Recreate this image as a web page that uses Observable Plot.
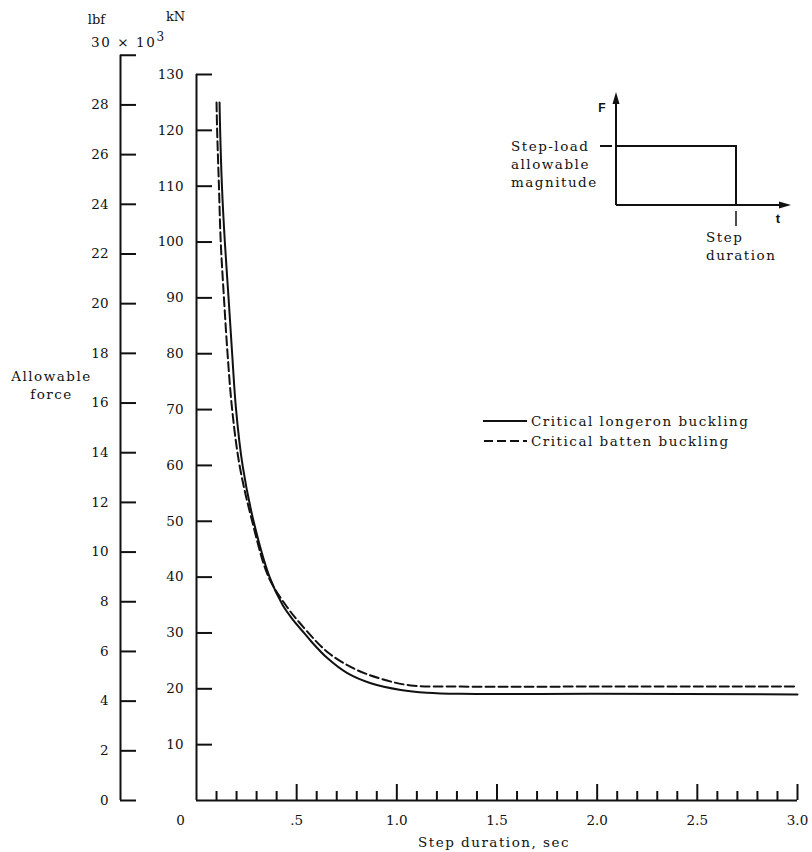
<!DOCTYPE html>
<html><head><meta charset="utf-8">
<script src="https://cdn.jsdelivr.net/npm/d3@7"></script>
<script src="https://cdn.jsdelivr.net/npm/@observablehq/plot@0.6"></script>
<style>
html,body{margin:0;padding:0;background:#fff;}
</style></head><body><div id="chart"></div>
<script>
// ---- data ----
const KN_PER_KLBF = 4.44822;
const kNTicks = [10, 20, 30, 40, 50, 60, 70, 80, 90, 100, 110, 120, 130];
const lbfTicks = [0, 2, 4, 6, 8, 10, 12, 14, 16, 18, 20, 22, 24, 26, 28, 30];
const xMajor = [0, 0.5, 1.0, 1.5, 2.0, 2.5, 3.0];
const xMajorLabels = ["0", ".5", "1.0", "1.5", "2.0", "2.5", "3.0"];
const xMinor = [0.1,0.2,0.3,0.4,0.6,0.7,0.8,0.9,1.1,1.2,1.3,1.4,1.6,1.7,1.8,1.9,2.1,2.2,2.3,2.4,2.6,2.7,2.8,2.9];

const longeronT = [0.115, 0.118, 0.127, 0.1415, 0.16, 0.178, 0.1975, 0.23, 0.285, 0.365, 0.43, 0.485, 0.537, 0.57, 0.653, 0.753, 0.87, 1.02, 1.15, 1.32, 2.0, 3.0];
const longeronF = [125, 120, 110, 100, 90, 80, 70, 60, 50, 40, 35, 32.2, 30, 28.6, 25.5, 22.8, 21.0, 19.8, 19.3, 19.1, 19.1, 19.0];
const battenT = [0.10, 0.103, 0.112, 0.121, 0.137, 0.155, 0.178, 0.215, 0.278, 0.36, 0.453, 0.52, 0.653, 0.787, 0.92, 1.07, 1.32, 2.0, 3.0];
const battenF = [125, 120, 110, 100, 90, 80, 70, 60, 50, 40, 34.6, 31.6, 26.6, 23.6, 21.8, 20.6, 20.4, 20.4, 20.4];

const seriesNames = ["Critical longeron buckling", "Critical batten buckling"];
const yLabel = "Allowable\nforce";
const xLabel = "Step duration, sec";
const longeron = longeronT.map((t, i) => ({t, f: longeronF[i]}));
const batten = battenT.map((t, i) => ({t, f: battenF[i]}));

const FONT = "DejaVu Serif, Liberation Serif, serif";
const LS = "1.5px";

const plot = Plot.plot({
  width: 812,
  height: 852,
  marginLeft: 196,
  marginRight: 15,
  marginTop: 74,
  marginBottom: 52,
  style: {fontFamily: FONT, fontSize: "13.5px", color: "#111", background: "#fff"},
  x: {domain: [0, 3], axis: null},
  y: {domain: [0, 130], axis: null},
  marks: [
    // main kN axis line and x axis line
    Plot.ruleX([0], {strokeWidth: 2}),
    Plot.ruleY([0], {strokeWidth: 2}),
    // kN axis
    Plot.axisY(kNTicks, {anchor: "left", tickSize: -16, tickPadding: 29, strokeWidth: 2, label: null, tickFormat: d => String(d)}),
    // lbf axis (secondary, converted to kN positions)
    Plot.ruleX([0], {y1: 0, y2: 30 * KN_PER_KLBF, dx: -76, strokeWidth: 2}),
    Plot.axisY(lbfTicks.map(v => v * KN_PER_KLBF), {anchor: "left", dx: -76, tickSize: -16, tickPadding: 28, strokeWidth: 2, label: null,
      tickFormat: d => { const v = Math.round(d / KN_PER_KLBF); return v === 30 ? "" : String(v); }}),
    Plot.text(["lbf"], {frameAnchor: "top-left", dx: -100, dy: -55, textAnchor: "middle", lineAnchor: "middle", fontSize: 13}),
    Plot.text(["kN"], {frameAnchor: "top-left", dx: -21, dy: -58, textAnchor: "middle", lineAnchor: "middle", fontSize: 13}),
    Plot.text([yLabel], {frameAnchor: "left", dx: -145, dy: -53, textAnchor: "middle", lineAnchor: "middle", lineHeight: 1.33}),
    // x axis
    Plot.axisX(xMajor.slice(1), {anchor: "bottom", tickSize: -16, tickPadding: 31, strokeWidth: 2, label: null,
      tickFormat: d => xMajorLabels[xMajor.indexOf(d)]}),
    Plot.axisX([0], {anchor: "bottom", tickSize: 0, tickPadding: 15, dx: -16, label: null, tickFormat: () => xMajorLabels[0]}),
    Plot.axisX(xMinor, {anchor: "bottom", tickSize: -9, tickPadding: 0, strokeWidth: 2, label: null, tickFormat: () => ""}),
    Plot.text([xLabel], {frameAnchor: "bottom", dx: -3, dy: 42, textAnchor: "middle", lineAnchor: "middle"}),
    // curves
    Plot.line(longeron, {x: "t", y: "f", stroke: "#111", strokeWidth: 2, curve: "catmull-rom"}),
    Plot.line(batten, {x: "t", y: "f", stroke: "#111", strokeWidth: 2, strokeDasharray: "9,4", curve: "catmull-rom"})
  ]
});
document.getElementById("chart").appendChild(plot);

const svg = d3.select(plot);
// typewriter-like letter spacing for word labels
svg.selectAll("text").filter(function() {
  const s = this.textContent;
  return s.startsWith("Allowable") || s === xLabel;
}).attr("letter-spacing", LS);

// ---- "30 × 10^3" label of the lbf axis ----
const expLabel = svg.append("text").attr("font-family", FONT).attr("font-size", 13.5).attr("fill", "#111")
  .attr("text-anchor", "start").attr("x", 91).attr("y", 42).attr("dy", "0.35em");
expLabel.append("tspan").attr("letter-spacing", "1.6px").text("30 × 10");
expLabel.append("tspan").attr("dy", "-6").attr("font-size", 12).text("3");

// ---- legend & inset schematic ----
const g = svg.append("g").attr("fill", "none").attr("stroke", "#111").attr("stroke-width", 2);
g.append("line").attr("x1", 483).attr("x2", 527).attr("y1", 421).attr("y2", 421);
g.append("line").attr("x1", 484).attr("x2", 527).attr("y1", 441).attr("y2", 441).attr("stroke-dasharray", "9,4");
const tg = svg.append("g").attr("font-family", FONT).attr("font-size", 13.5).attr("fill", "#111")
  .attr("text-anchor", "start").attr("letter-spacing", LS);
tg.append("text").attr("x", 531).attr("y", 421).attr("dy", "0.35em").text(seriesNames[0]);
tg.append("text").attr("x", 531).attr("y", 441).attr("dy", "0.35em").text(seriesNames[1]);

// inset schematic
g.append("line").attr("x1", 616).attr("x2", 616).attr("y1", 205).attr("y2", 100);
g.append("line").attr("x1", 616).attr("x2", 782).attr("y1", 205).attr("y2", 205);
g.append("polyline").attr("points", "616,146 736,146 736,205");
g.append("line").attr("x1", 736).attr("x2", 736).attr("y1", 211).attr("y2", 226).attr("stroke-width", 1.5);
g.append("line").attr("x1", 600).attr("x2", 612).attr("y1", 146).attr("y2", 146);
svg.append("path").attr("d", "M616,92 L612.5,104 L619.5,104 Z").attr("fill", "#111");
svg.append("path").attr("d", "M791,205 L779,201.5 L779,208.5 Z").attr("fill", "#111");
tg.append("text").attr("x", 602).attr("y", 108).attr("dy", "0.35em").attr("text-anchor", "middle").attr("letter-spacing", 0)
  .attr("font-family", "Liberation Sans, Arial, sans-serif").attr("font-weight", "bold").attr("font-size", 12).text("F");
tg.append("text").attr("x", 778).attr("y", 218).attr("dy", "0.35em").attr("text-anchor", "middle").attr("letter-spacing", 0)
  .attr("font-family", "Liberation Sans, Arial, sans-serif").attr("font-weight", "bold").attr("font-size", 13).text("t");
tg.append("text").attr("x", 511).attr("y", 146).attr("dy", "0.35em").text("Step-load");
tg.append("text").attr("x", 511).attr("y", 164).attr("dy", "0.35em").text("allowable");
tg.append("text").attr("x", 511).attr("y", 182).attr("dy", "0.35em").text("magnitude");
tg.append("text").attr("x", 706).attr("y", 237).attr("dy", "0.35em").text("Step");
tg.append("text").attr("x", 706).attr("y", 255).attr("dy", "0.35em").text("duration");
</script></body></html>
